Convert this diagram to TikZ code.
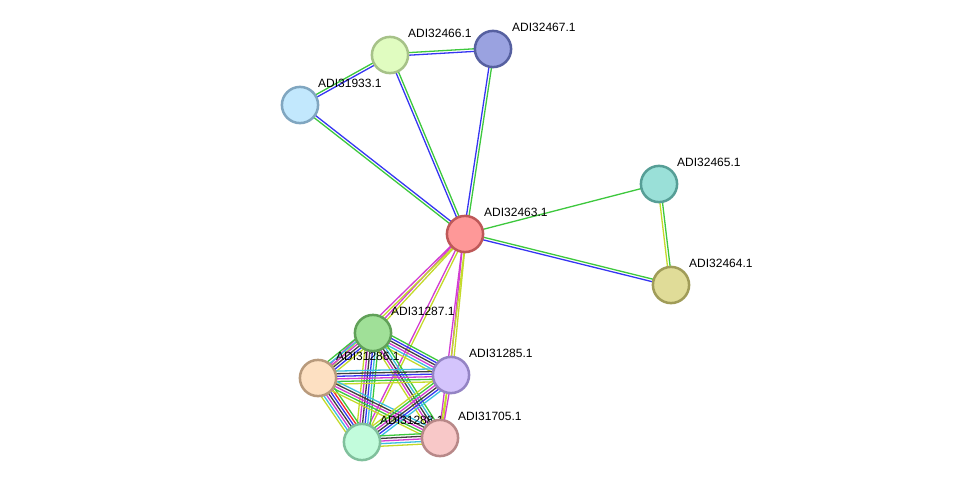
\documentclass[tikz,border=0pt]{standalone}
\usepackage{fontspec}
\setmainfont{Liberation Sans}
\usetikzlibrary{calc}
\pgfdeclarelayer{bgfill}
\pgfdeclarelayer{edges}
\pgfdeclarelayer{labels}
\pgfsetlayers{bgfill,edges,labels,main}
\definecolor{cneigh}{HTML}{3DC83D}
\definecolor{ccooc}{HTML}{3636F2}
\definecolor{cexp}{HTML}{D23CD2}
\definecolor{ctext}{HTML}{C4DA2A}
\definecolor{ccoex}{HTML}{404040}
\definecolor{cdb}{HTML}{3CBEE0}
\definecolor{cfus}{HTML}{F02A2A}
\newcommand\medge[3]{%
  \foreach \ecol [count=\n] in {#3} {\xdef\ecount{\n}}%
  \foreach \ecol [count=\i] in {#3} {%
    \pgfmathsetmacro\eoff{(\i-(\ecount+1)/2)*2.6}%
    \draw[elink,draw=\ecol] ($(#1)!\eoff pt!90:(#2)$) -- ($(#2)!\eoff pt!-90:(#1)$);
  }}
\tikzset{
  prot/.style={circle,minimum size=36.2pt,inner sep=0pt,line width=2.5pt},
  plabel/.style={anchor=base west,inner sep=0pt,font=\fontsize{12}{14}\selectfont},
  elink/.style={line width=1.3pt}
}
\begin{document}
\begin{tikzpicture}[x=1pt,y=-1pt]
\begin{pgfonlayer}{bgfill}
\fill[white] (0,0) rectangle (975,488);
\end{pgfonlayer}
\useasboundingbox (0,0) rectangle (975,488);
% nodes
\node[prot,fill={rgb,255:red,254;green,152;blue,152},draw={rgb,255:red,190;green,88;blue,88}] (n63) at (465,234) {};
\node[prot,fill={rgb,255:red,224;green,252;blue,192},draw={rgb,255:red,166;green,194;blue,136}] (n66) at (390,55) {};
\node[prot,fill={rgb,255:red,154;green,162;blue,224},draw={rgb,255:red,86;green,96;blue,160}] (n67) at (493,49) {};
\node[prot,fill={rgb,255:red,194;green,232;blue,253},draw={rgb,255:red,128;green,166;blue,192}] (n33) at (300,105) {};
\node[prot,fill={rgb,255:red,154;green,224;blue,216},draw={rgb,255:red,86;green,158;blue,150}] (n65) at (659,184) {};
\node[prot,fill={rgb,255:red,224;green,220;blue,152},draw={rgb,255:red,160;green,156;blue,88}] (n64) at (671,285) {};
\node[prot,fill={rgb,255:red,160;green,224;blue,152},draw={rgb,255:red,96;green,160;blue,88}] (n87) at (373,333) {};
\node[prot,fill={rgb,255:red,253;green,224;blue,194},draw={rgb,255:red,184;green,154;blue,124}] (n86) at (318,378) {};
\node[prot,fill={rgb,255:red,212;green,196;blue,252},draw={rgb,255:red,148;green,132;blue,196}] (n85) at (451,375) {};
\node[prot,fill={rgb,255:red,194;green,252;blue,220},draw={rgb,255:red,128;green,192;blue,156}] (n88) at (362,442) {};
\node[prot,fill={rgb,255:red,248;green,200;blue,200},draw={rgb,255:red,184;green,136;blue,136}] (n05) at (440,438) {};
% labels
\begin{pgfonlayer}{labels}
\node[plabel] (l63) at ($(n63)+(19,-17.5)$) {ADI32463.1};
\node[plabel] (l66) at ($(n66)+(18,-17.5)$) {ADI32466.1};
\node[plabel] (l67) at ($(n67)+(19,-17.5)$) {ADI32467.1};
\node[plabel] (l33) at ($(n33)+(18,-17.5)$) {ADI31933.1};
\node[plabel] (l65) at ($(n65)+(18,-17.5)$) {ADI32465.1};
\node[plabel] (l64) at ($(n64)+(18,-17.5)$) {ADI32464.1};
\node[plabel] (l87) at ($(n87)+(18,-17.5)$) {ADI31287.1};
\node[plabel] (l86) at ($(n86)+(18,-17.5)$) {ADI31286.1};
\node[plabel] (l85) at ($(n85)+(18,-17.5)$) {ADI31285.1};
\node[plabel] (l88) at ($(n88)+(18,-17.5)$) {ADI31288.1};
\node[plabel] (l05) at ($(n05)+(18,-17.5)$) {ADI31705.1};
\end{pgfonlayer}
% edges
\begin{pgfonlayer}{edges}
\medge{n66}{n67}{ccooc,cneigh}
\medge{n33}{n66}{ccooc,cneigh}
\medge{n66}{n63}{ccooc,cneigh}
\medge{n67}{n63}{ccooc,cneigh}
\medge{n33}{n63}{cneigh,ccooc}
\medge{n63}{n65}{cneigh}
\medge{n63}{n64}{ccooc,cneigh}
\medge{n65}{n64}{ctext,cneigh}
\medge{n63}{n87}{cexp,ctext}
\medge{n63}{n86}{cexp,ctext}
\medge{n63}{n88}{cexp,ctext}
\medge{n63}{n85}{cexp,ctext}
\medge{n63}{n05}{cexp,ctext}
\medge{n87}{n86}{cneigh,cdb,cexp,ccoex,ccooc,ctext}
\medge{n87}{n85}{ctext,cdb,cexp,ccoex,ccooc,cneigh}
\medge{n87}{n88}{ctext,cexp,ccoex,ccooc,cdb,cneigh}
\medge{n87}{n05}{ctext,cexp,ccoex,cdb,cneigh}
\medge{n86}{n85}{ctext,cneigh,cexp,ccooc,ccoex,cdb}
\medge{n86}{n88}{ctext,cdb,cexp,ccoex,ccooc,cfus,cneigh}
\medge{n86}{n05}{ctext,cneigh,cexp,ccoex,cdb}
\medge{n85}{n88}{ctext,cneigh,cexp,ccoex,ccooc,cdb}
\medge{n85}{n05}{ctext,cexp}
\medge{n88}{n05}{ctext,cdb,cexp,ccoex,cneigh}
\end{pgfonlayer}
\end{tikzpicture}
\end{document}
